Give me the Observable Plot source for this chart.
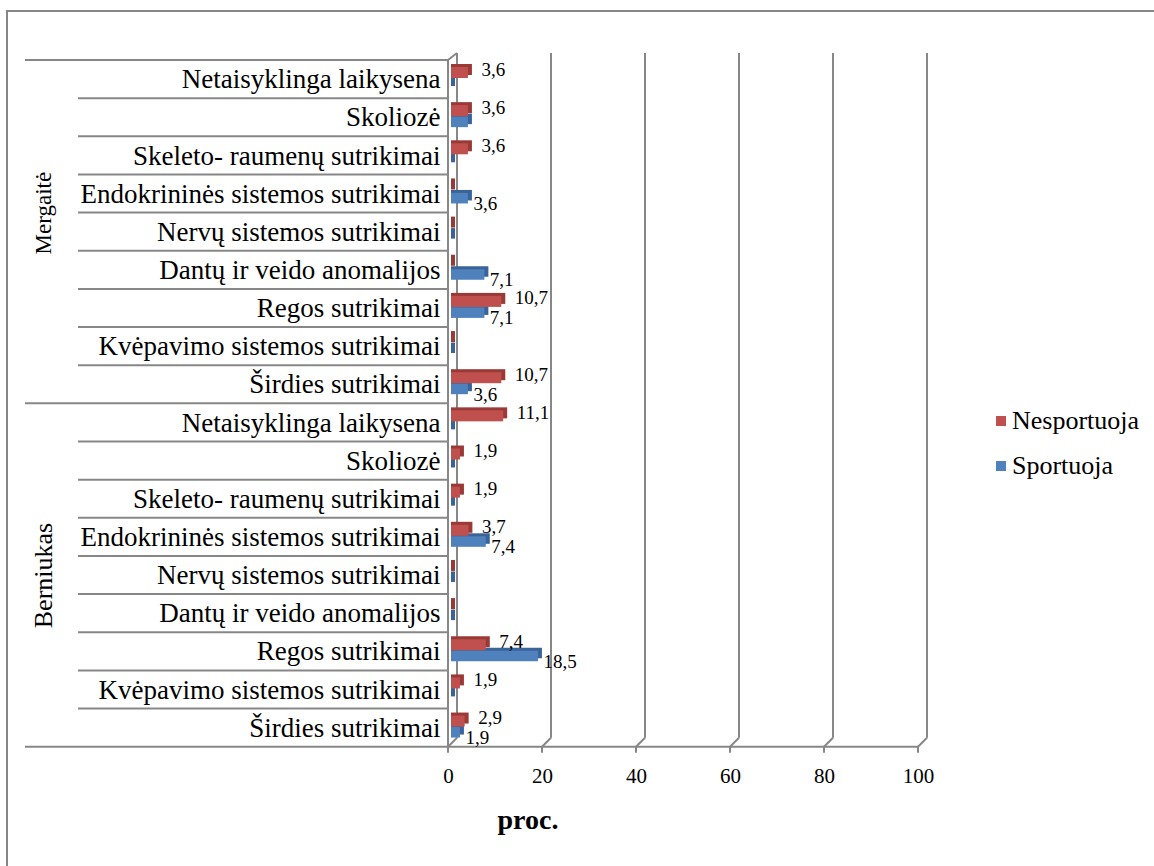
<!DOCTYPE html>
<html><head><meta charset="utf-8">
<script src="https://cdn.jsdelivr.net/npm/d3@7"></script>
<script src="https://cdn.jsdelivr.net/npm/@observablehq/plot@0.6"></script>
<style>
body{margin:0;background:#fff;font-family:"Liberation Serif","Times New Roman",serif;}
#wrap{position:relative;width:1154px;height:866px;overflow:hidden;background:#fff;}
#border{position:absolute;left:6px;top:10px;width:2000px;height:2000px;border-left:2px solid #868686;border-top:2px solid #868686;}
#chart{position:absolute;left:0;top:0;}
#legend{position:absolute;left:996px;top:398px;font-size:26px;color:#000;}
.item{display:flex;align-items:center;height:45px;}
.sw{width:10px;height:10px;margin-right:6px;}
</style></head><body>
<div id="wrap"><div id="border"></div><div id="chart"></div><div id="legend"></div></div>
<script>
// ---- data ----
const groups = ["Mergaitė", "Berniukas"];
const categories = [
  "Netaisyklinga laikysena",
  "Skoliozė",
  "Skeleto- raumenų sutrikimai",
  "Endokrininės sistemos sutrikimai",
  "Nervų sistemos sutrikimai",
  "Dantų ir veido anomalijos",
  "Regos sutrikimai",
  "Kvėpavimo sistemos sutrikimai",
  "Širdies sutrikimai"
];
const seriesNames = ["Nesportuoja", "Sportuoja"];
const seriesColors = ["#C0504D", "#4F81BD"];
const seriesDepthColors = ["#9A3A37", "#3A6499"];
const mergaiteNesportuoja  = [3.6, 3.6, 3.6, 0, 0, 0, 10.7, 0, 10.7];
const mergaiteSportuoja    = [0, 3.6, 0, 3.6, 0, 7.1, 7.1, 0, 3.6];
const berniukasNesportuoja = [11.1, 1.9, 1.9, 3.7, 0, 0, 7.4, 1.9, 2.9];
const berniukasSportuoja   = [0, 0, 0, 7.4, 0, 0, 18.5, 0, 1.9];
const xTicks = [0, 20, 40, 60, 80, 100];
const xTickLabels = ["0", "20", "40", "60", "80", "100"];
const xTitle = "proc.";
const hiddenLabels = [["Mergaitė", "Skoliozė", "Sportuoja"]];

// ---- table ----
const groupValues = [
  [mergaiteNesportuoja, mergaiteSportuoja],
  [berniukasNesportuoja, berniukasSportuoja]
];
const nRows = groups.length * categories.length;
const rows = [];
groups.forEach((g, gi) => categories.forEach((c, ci) => {
  rows.push({group: g, category: c, i: gi * categories.length + ci,
    nes: groupValues[gi][0][ci], sp: groupValues[gi][1][ci]});
}));
const fmt = v => v.toFixed(1).replace(".", ",");
const isHidden = (d, s) => hiddenLabels.some(h => h[0] === d.group && h[1] === d.category && h[2] === s);
const groupRows = groups.map((g, gi) => ({group: g, mid: gi * categories.length + categories.length / 2}));

const W = 1154, H = 866;
const bandPx = (746.7 - 60) / nRows;
const FRONT = -3, BACK = 6, RISE = 9, TOPRISE = 7;

function frame3d(index, scales, values, dims) {
  const {x, y} = scales;
  const g = d3.create("svg:g").attr("stroke", "#878787").attr("stroke-width", 2).attr("fill", "none");
  const yTop = y(0), yBot = y(nRows);
  const xf = x(0) + FRONT;
  const line = (x1, y1, x2, y2) => g.append("line").attr("x1", x1).attr("y1", y1).attr("x2", x2).attr("y2", y2);
  for (let k = 0; k < nRows; k++) {
    const x0 = (k % categories.length === 0) ? dims.marginLeft : dims.marginLeft + 53;
    line(x0, y(k), xf, y(k));
  }
  line(dims.marginLeft, yBot, x(100) + FRONT, yBot);
  line(xf, yTop, xf, yBot);
  line(xf, yTop, x(0) + BACK, yTop - TOPRISE);
  for (const t of xTicks) {
    const xt = x(t) + FRONT, xb = x(t) + BACK;
    line(xt, yBot, xt, yBot + 6);
    line(xt, yBot, xb, yBot - RISE);
    line(xb, yBot - RISE, xb, yTop - TOPRISE);
  }
  return g.node();
}

const redTop = 7, redBot = 18, bluTop = 18.5, bluBot = 29;
const barOpts = (key, top, bot, fill, depth) => ({
  x1: 0, x2: d => d[key], y1: d => d.i, y2: d => d.i + 1,
  insetTop: top, insetBottom: bandPx - bot, fill,
  ...(depth ? {dy: -3, insetRight: -4} : {})
});

const plot = Plot.plot({
  width: W, height: H,
  marginLeft: 25, marginRight: 124, marginTop: 60, marginBottom: 119.3,
  x: {domain: [0, 100], range: [451, 921], axis: null},
  y: {domain: [0, nRows], range: [60, 746.7], axis: null},
  style: {fontFamily: "'Liberation Serif','Times New Roman',serif", background: "transparent", color: "#000"},
  marks: [
    frame3d,
    Plot.rect(rows, barOpts("sp", bluTop, bluBot, seriesDepthColors[1], true)),
    Plot.rect(rows, barOpts("nes", redTop, redBot, seriesDepthColors[0], true)),
    Plot.rect(rows, barOpts("sp", bluTop, bluBot, seriesColors[1], false)),
    Plot.rect(rows, barOpts("nes", redTop, redBot, seriesColors[0], false)),
    // category labels
    Plot.text(rows, {x: 0, y: d => d.i + 0.5, text: "category", textAnchor: "end", dx: -11, fontSize: 27, fill: "#000"}),
    // group labels
    Plot.text(groupRows.slice(0, 1), {y: "mid", text: "group", frameAnchor: "left", textAnchor: "middle", dx: 18, dy: -19, rotate: -90, fontSize: 23, fill: "#000"}),
    Plot.text(groupRows.slice(1), {y: "mid", text: "group", frameAnchor: "left", textAnchor: "middle", dx: 18, rotate: -90, fontSize: 26, fill: "#000"}),
    // data labels
    Plot.text(rows.filter(d => d.nes > 0 && !isHidden(d, seriesNames[0])), {x: "nes", y: "i", text: d => fmt(d.nes), textAnchor: "start", dx: 13, dy: 9, fontSize: 19, fill: "#000"}),
    Plot.text(rows.filter(d => d.sp > 0 && !isHidden(d, seriesNames[1])), {x: "sp", y: "i", text: d => fmt(d.sp), textAnchor: "start", dx: 5, dy: 29, fontSize: 19, fill: "#000"}),
    // x tick labels
    Plot.text(xTicks, {x: d => d, text: (d, i) => xTickLabels[i], frameAnchor: "bottom", dx: FRONT, dy: 36, fontSize: 21, fill: "#000"}),
    // x title
    Plot.text([xTitle], {text: d => d, frameAnchor: "bottom", dy: 82, fontSize: 28, fontWeight: "bold", fill: "#000"})
  ]
});
document.getElementById("chart").appendChild(plot);

const legend = d3.select("#legend");
seriesNames.forEach((s, k) => {
  const it = legend.append("div").attr("class", "item");
  it.append("div").attr("class", "sw").style("background", seriesColors[k]);
  it.append("span").text(s);
});
</script>
</body></html>
